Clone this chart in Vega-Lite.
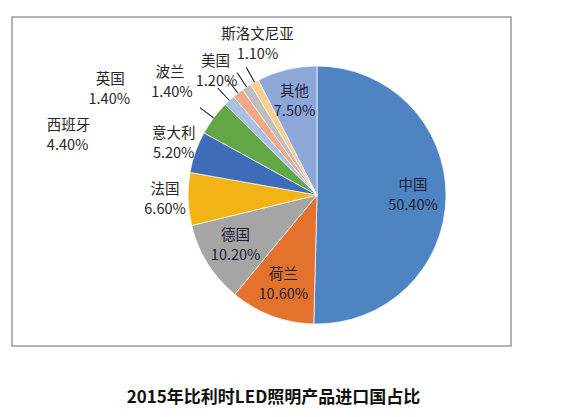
{
  "$schema": "https://vega.github.io/schema/vega-lite/v6.json",
  "width": 499,
  "height": 329,
  "padding": {"left": 12, "top": 14, "right": 5, "bottom": 5},
  "background": "white",
  "view": {"stroke": "#9a9a9a", "strokeWidth": 1.5},
  "title": {
    "text": "2015年比利时LED照明产品进口国占比",
    "orient": "bottom",
    "offset": 36,
    "dx": 12,
    "font": "Noto Sans CJK SC",
    "fontSize": 17,
    "fontWeight": "bold",
    "color": "#111111"
  },
  "data": {
    "values": [
      {"country": "中国", "share": 0.504},
      {"country": "荷兰", "share": 0.106},
      {"country": "德国", "share": 0.102},
      {"country": "法国", "share": 0.066},
      {"country": "意大利", "share": 0.052},
      {"country": "西班牙", "share": 0.044},
      {"country": "英国", "share": 0.014},
      {"country": "波兰", "share": 0.014},
      {"country": "美国", "share": 0.012},
      {"country": "斯洛文尼亚", "share": 0.011},
      {"country": "其他", "share": 0.075}
    ]
  },
  "transform": [{"window": [{"op": "row_number", "as": "idx"}]}],
  "encoding": {
    "theta": {"field": "share", "type": "quantitative", "stack": true},
    "order": {"field": "idx", "type": "quantitative"}
  },
  "layer": [
    {
      "mark": {"type": "arc", "outerRadius": 129, "x": 305, "y": 178, "stroke": "#ffffff", "strokeWidth": 0.7},
      "encoding": {
        "color": {
          "field": "country",
          "type": "nominal",
          "scale": {
            "domain": ["中国", "荷兰", "德国", "法国", "意大利", "西班牙", "英国", "波兰", "美国", "斯洛文尼亚", "其他"],
            "range": ["#4f84c2", "#e3722d", "#a5a5a5", "#f1b414", "#3f6cb9", "#62a646", "#a8c1e3", "#f2a88a", "#c0bdbe", "#f7cf8e", "#8fa6d8"]
          },
          "legend": null
        }
      }
    },
    {
      "mark": {"type": "arc", "outerRadius": 146, "innerRadius": 129, "padAngle": 0.5, "x": 305, "y": 178, "fillOpacity": 0, "stroke": "#222222", "strokeWidth": 0.9},
      "encoding": {
        "strokeOpacity": {"condition": {"test": "indexof(['西班牙','英国','波兰','美国','斯洛文尼亚'], datum.country) >= 0", "value": 1}, "value": 0}
      }
    },
    {
      "mark": {"type": "text", "radius": 96, "x": 305, "y": 178, "dy": -10, "font": "Noto Sans CJK SC", "fontSize": 14.5, "fill": "#1c2233"},
      "encoding": {"text": {"condition": {"test": "indexof(['中国','荷兰','德国','其他'], datum.country) >= 0", "field": "country"}, "value": ""}}
    },
    {
      "mark": {"type": "text", "radius": 96, "x": 305, "y": 178, "dy": 10, "font": "Noto Sans CJK SC", "fontSize": 14.5, "fill": "#1c2233"},
      "encoding": {"text": {"condition": {"test": "indexof(['中国','荷兰','德国','其他'], datum.country) >= 0", "field": "share", "type": "quantitative", "format": ".2%"}, "value": ""}}
    },
    {
      "mark": {"type": "text", "radius": 152, "x": 305, "y": 178, "dy": -10, "font": "Noto Sans CJK SC", "fontSize": 14.5, "fill": "#262626"},
      "encoding": {"text": {"condition": {"test": "indexof(['法国','意大利'], datum.country) >= 0", "field": "country"}, "value": ""}}
    },
    {
      "mark": {"type": "text", "radius": 152, "x": 305, "y": 178, "dy": 10, "font": "Noto Sans CJK SC", "fontSize": 14.5, "fill": "#262626"},
      "encoding": {"text": {"condition": {"test": "indexof(['法国','意大利'], datum.country) >= 0", "field": "share", "type": "quantitative", "format": ".2%"}, "value": ""}}
    },
    {
      "mark": {"type": "text", "radius": 129, "x": 305, "y": 178, "dx": -145, "dy": 8, "font": "Noto Sans CJK SC", "fontSize": 14.5, "fill": "#262626"},
      "encoding": {"text": {"condition": {"test": "datum.country === '西班牙'", "field": "country"}, "value": ""}}
    },
    {
      "mark": {"type": "text", "radius": 129, "x": 305, "y": 178, "dx": -146, "dy": 28, "font": "Noto Sans CJK SC", "fontSize": 14.5, "fill": "#262626"},
      "encoding": {"text": {"condition": {"test": "datum.country === '西班牙'", "field": "share", "type": "quantitative", "format": ".2%"}, "value": ""}}
    },
    {
      "mark": {"type": "text", "radius": 129, "x": 305, "y": 178, "dx": -119, "dy": -20, "font": "Noto Sans CJK SC", "fontSize": 14.5, "fill": "#262626"},
      "encoding": {"text": {"condition": {"test": "datum.country === '英国'", "field": "country"}, "value": ""}}
    },
    {
      "mark": {"type": "text", "radius": 129, "x": 305, "y": 178, "dx": -120, "dy": 0, "font": "Noto Sans CJK SC", "fontSize": 14.5, "fill": "#262626"},
      "encoding": {"text": {"condition": {"test": "datum.country === '英国'", "field": "share", "type": "quantitative", "format": ".2%"}, "value": ""}}
    },
    {
      "mark": {"type": "text", "radius": 129, "x": 305, "y": 178, "dx": -68, "dy": -20, "font": "Noto Sans CJK SC", "fontSize": 14.5, "fill": "#262626"},
      "encoding": {"text": {"condition": {"test": "datum.country === '波兰'", "field": "country"}, "value": ""}}
    },
    {
      "mark": {"type": "text", "radius": 129, "x": 305, "y": 178, "dx": -66, "dy": 0, "font": "Noto Sans CJK SC", "fontSize": 14.5, "fill": "#262626"},
      "encoding": {"text": {"condition": {"test": "datum.country === '波兰'", "field": "share", "type": "quantitative", "format": ".2%"}, "value": ""}}
    },
    {
      "mark": {"type": "text", "radius": 129, "x": 305, "y": 178, "dx": -31, "dy": -25, "font": "Noto Sans CJK SC", "fontSize": 14.5, "fill": "#262626"},
      "encoding": {"text": {"condition": {"test": "datum.country === '美国'", "field": "country"}, "value": ""}}
    },
    {
      "mark": {"type": "text", "radius": 129, "x": 305, "y": 178, "dx": -30, "dy": -5, "font": "Noto Sans CJK SC", "fontSize": 14.5, "fill": "#262626"},
      "encoding": {"text": {"condition": {"test": "datum.country === '美国'", "field": "share", "type": "quantitative", "format": ".2%"}, "value": ""}}
    },
    {
      "mark": {"type": "text", "radius": 129, "x": 305, "y": 178, "dx": 3, "dy": -47, "font": "Noto Sans CJK SC", "fontSize": 14.5, "fill": "#262626"},
      "encoding": {"text": {"condition": {"test": "datum.country === '斯洛文尼亚'", "field": "country"}, "value": ""}}
    },
    {
      "mark": {"type": "text", "radius": 129, "x": 305, "y": 178, "dx": 3, "dy": -27, "font": "Noto Sans CJK SC", "fontSize": 14.5, "fill": "#262626"},
      "encoding": {"text": {"condition": {"test": "datum.country === '斯洛文尼亚'", "field": "share", "type": "quantitative", "format": ".2%"}, "value": ""}}
    }
  ],
  "config": {
    "text": {"align": "center", "baseline": "middle"}
  }
}
